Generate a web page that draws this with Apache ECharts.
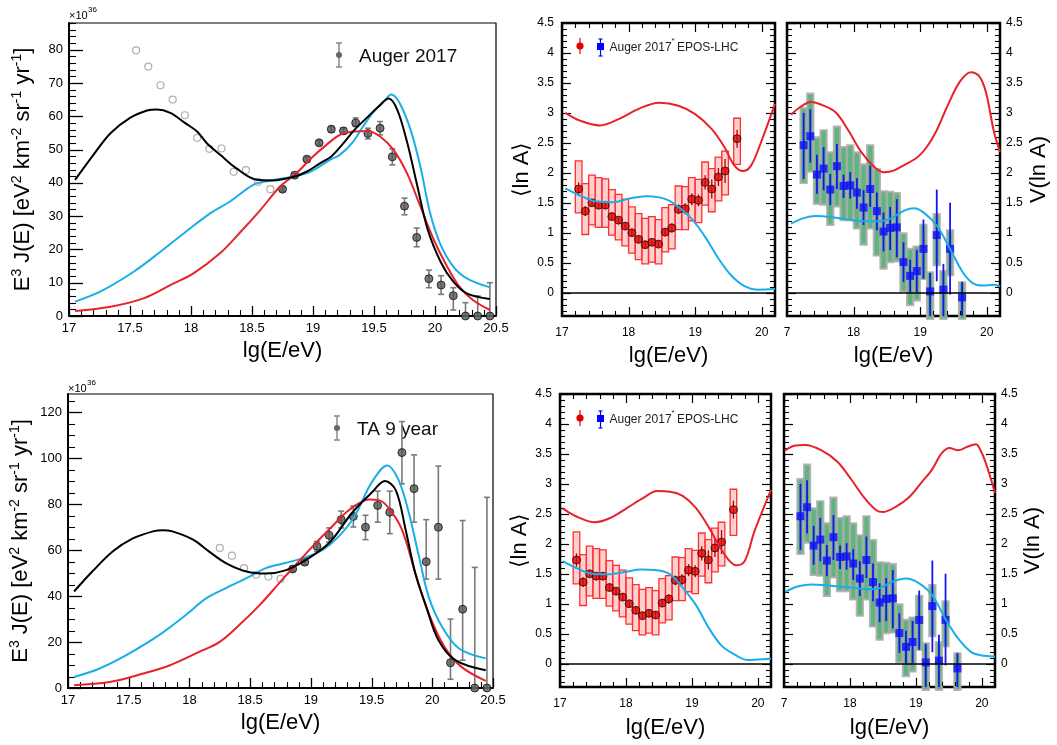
<!DOCTYPE html>
<html><head><meta charset="utf-8">
<script src="https://cdn.jsdelivr.net/npm/echarts@6/dist/echarts.min.js"></script>
<style>html,body{margin:0;padding:0;background:#fff}#c{width:1057px;height:745px}</style>
</head><body><div id="c"></div>
<script>
// ---------------- DATA ----------------
// Auger 2017 spectrum (E^3 J in 1e36 units)
const augerOpenE = [17.55,17.65,17.75,17.85,17.95,18.05,18.15,18.25,18.35,18.45,18.55,18.65];
const augerOpenJ = [79.8,74.9,69.3,65.0,60.3,53.5,50.2,50.3,43.3,43.8,40.3,38.1];
const augerE  = [18.75,18.85,18.95,19.05,19.15,19.25,19.35,19.45,19.55,19.65,19.75,19.85,19.95,20.05,20.15,20.25,20.35,20.45];
const augerJ  = [38.1,42.3,47.1,52.0,56.1,55.6,58.0,54.8,56.4,47.8,33.0,23.6,11.2,9.3,6.1,0,0,0];
const augerLo = [37.5,41.7,46.4,51.3,55.3,54.7,56.9,53.2,54.4,45.4,30.4,20.8,8.5,6.5,1.8,0,0,0];
const augerHi = [38.7,42.9,47.8,52.7,56.9,56.5,59.5,56.4,58.4,50.2,35.4,26.4,13.8,12.1,8.5,4.0,6.0,10.0];
const augerBlack = [[17.05,40.9],[17.2,48.4],[17.34,54.9],[17.5,59.5],[17.64,61.7],[17.72,62.0],[17.83,61.0],[17.95,58.0],[18.05,55.4],[18.13,51.9],[18.24,48.4],[18.37,44.4],[18.54,40.9],[18.67,40.7],[18.85,41.9],[18.95,43.4],[19.06,45.9],[19.15,47.9],[19.25,51.9],[19.34,55.9],[19.44,59.5],[19.54,63.0],[19.62,65.3],[19.69,62.0],[19.77,52.4],[19.85,39.9],[19.94,26.0],[20.05,16.0],[20.15,10.3],[20.26,6.8],[20.45,5.1]];
const augerCyan = [[17.05,4.3],[17.28,7.8],[17.53,13.3],[17.75,19.3],[17.96,25.4],[18.16,30.9],[18.32,34.4],[18.51,39.4],[18.62,40.5],[18.85,42.0],[18.98,43.4],[19.14,46.9],[19.22,48.4],[19.33,52.4],[19.41,56.9],[19.49,61.0],[19.59,64.8],[19.64,66.5],[19.71,64.0],[19.8,55.9],[19.88,44.9],[19.96,30.9],[20.04,21.9],[20.15,14.8],[20.26,11.3],[20.45,8.6]];
const augerRed = [[17.05,1.5],[17.34,2.8],[17.61,5.3],[17.83,9.3],[18.02,12.8],[18.24,18.9],[18.4,25.0],[18.57,31.9],[18.73,38.9],[18.85,42.4],[19.0,47.9],[19.11,51.4],[19.22,54.4],[19.33,55.4],[19.45,55.6],[19.55,53.9],[19.66,49.9],[19.77,42.9],[19.88,32.9],[19.99,22.9],[20.1,14.8],[20.2,8.8],[20.31,4.8],[20.45,1.8]];

// TA 9 year spectrum
const taOpenE = [18.25,18.35,18.45,18.55,18.65,18.75];
const taOpenJ = [61.0,57.6,52.2,49.3,48.5,47.5];
const taE  = [18.85,18.95,19.05,19.15,19.25,19.35,19.45,19.55,19.65,19.75,19.85,19.95,20.05,20.15,20.25,20.35,20.45];
const taJ  = [51.8,54.8,61.7,66.5,73.3,74.7,70.0,79.5,76.5,102.5,86.8,55.0,70.0,11.0,34.3,0,0];
const taLo = [50.8,53.6,59.5,63.5,69.7,70.1,64.6,72.2,67.2,88.9,72.2,47.4,47.4,3.8,12.1,0,0];
const taHi = [52.8,56.0,63.8,69.7,77.0,79.2,75.2,85.7,85.7,116.0,101.5,73.3,96.6,30.0,72.9,52.5,83.0];
const taBlack = [[17.05,42.0],[17.2,50.7],[17.37,59.5],[17.53,65.0],[17.7,68.2],[17.78,68.7],[17.86,68.2],[18.03,64.6],[18.16,59.5],[18.3,54.4],[18.47,50.7],[18.63,49.8],[18.79,51.2],[18.96,55.8],[19.15,63.1],[19.34,76.3],[19.5,85.0],[19.61,90.1],[19.7,86.0],[19.78,69.0],[19.86,50.0],[19.95,35.4],[20.05,20.9],[20.19,12.1],[20.44,7.7]];
const taCyan = [[17.05,4.8],[17.26,8.5],[17.48,14.3],[17.75,23.0],[17.97,31.8],[18.14,39.1],[18.3,43.5],[18.47,47.8],[18.63,52.2],[18.79,54.4],[18.96,57.0],[19.1,60.2],[19.23,66.0],[19.36,74.8],[19.5,89.4],[19.63,96.9],[19.72,90.8],[19.8,77.7],[19.89,57.3],[19.97,39.8],[20.08,26.7],[20.22,17.2],[20.44,12.9]];
const taRed = [[17.05,1.2],[17.34,2.6],[17.62,6.3],[17.84,9.9],[18.08,15.7],[18.25,20.1],[18.41,27.4],[18.58,36.2],[18.75,46.3],[18.9,55.1],[19.04,63.1],[19.15,69.0],[19.32,77.7],[19.48,82.1],[19.56,81.8],[19.64,78.4],[19.75,69.0],[19.86,50.0],[19.97,32.5],[20.1,17.9],[20.24,9.2],[20.44,3.1]];

// Auger 2017 EPOS-LHC composition
const compE = [17.25,17.35,17.45,17.55,17.65,17.75,17.85,17.95,18.05,18.15,18.25,18.35,18.45,18.55,18.65,18.75,18.85,18.95,19.05,19.15,19.25,19.35,19.45,19.63];
const lnAVal   = [1.73,1.36,1.50,1.46,1.46,1.27,1.21,1.11,1.00,0.89,0.80,0.84,0.81,1.01,1.08,1.39,1.40,1.56,1.54,1.84,1.73,1.93,2.03,2.57];
const lnAStat  = [0.11,0.08,0.06,0.06,0.06,0.06,0.06,0.06,0.06,0.06,0.06,0.06,0.06,0.07,0.08,0.08,0.09,0.10,0.10,0.12,0.16,0.15,0.20,0.15];
const lnASysLo = [1.33,0.97,1.13,1.09,1.09,0.96,0.88,0.78,0.66,0.55,0.48,0.51,0.48,0.68,0.73,1.05,1.05,1.20,1.17,1.46,1.35,1.53,1.63,2.14];
const lnASysHi = [2.20,1.82,1.96,1.92,1.90,1.72,1.64,1.56,1.43,1.32,1.24,1.27,1.22,1.42,1.47,1.78,1.77,1.92,1.89,2.18,2.07,2.26,2.36,2.91];
const vVal    = [2.46,2.61,1.97,2.07,1.72,2.11,1.78,1.79,1.67,1.42,1.73,1.36,1.02,1.08,1.09,0.51,0.28,0.36,0.73,0.02,0.96,0.05,0.73,-0.08];
const vStatLo = [1.90,2.17,1.65,1.71,1.46,1.73,1.58,1.57,1.40,1.13,1.43,1.04,0.69,0.71,0.59,0.18,0.00,0.01,0.23,-0.5,0.19,-0.5,-0.03,-0.5];
const vStatHi = [3.00,3.06,2.30,2.43,1.98,2.48,1.97,2.01,1.91,1.71,2.12,1.67,1.34,1.43,1.56,0.84,0.55,0.71,1.22,0.33,1.72,0.48,1.50,0.18];
const vSysLo  = [1.83,2.02,1.48,1.47,1.13,1.44,1.21,1.21,1.07,0.80,1.07,0.62,0.40,0.51,0.52,0.02,-0.21,-0.13,0.23,-0.6,0.46,-0.6,0.29,-0.6];
const vSysHi  = [3.08,3.32,2.59,2.71,2.34,2.77,2.43,2.46,2.34,2.14,2.46,2.06,1.69,1.68,1.66,0.99,0.73,0.77,1.13,0.34,1.31,0.36,1.04,0.17];

// model curves for composition
const lnATopRed  = [[17.05,3.0],[17.27,2.87],[17.57,2.79],[17.86,2.90],[18.16,3.07],[18.46,3.17],[18.75,3.12],[19.0,2.98],[19.25,2.73],[19.44,2.43],[19.59,2.12],[19.72,2.03],[19.84,2.12],[19.99,2.51],[20.2,3.15]];
const lnATopCyan = [[17.05,1.74],[17.27,1.62],[17.52,1.52],[17.77,1.51],[18.01,1.57],[18.26,1.61],[18.46,1.59],[18.6,1.54],[18.75,1.43],[18.95,1.23],[19.15,0.93],[19.35,0.57],[19.54,0.29],[19.74,0.11],[19.94,0.05],[20.2,0.06]];
const vTopRed  = [[17.06,2.97],[17.19,3.09],[17.36,3.18],[17.53,3.13],[17.73,3.01],[17.92,2.71],[18.12,2.34],[18.32,2.09],[18.46,2.01],[18.61,2.04],[18.76,2.13],[18.96,2.26],[19.1,2.43],[19.25,2.71],[19.4,3.09],[19.59,3.51],[19.76,3.68],[19.89,3.61],[19.99,3.34],[20.11,2.68],[20.2,2.35]];
const vTopCyan = [[17.06,1.15],[17.24,1.24],[17.43,1.28],[17.68,1.26],[17.92,1.22],[18.17,1.19],[18.37,1.19],[18.56,1.24],[18.76,1.37],[18.91,1.41],[19.05,1.34],[19.25,1.12],[19.45,0.73],[19.64,0.34],[19.79,0.16],[19.94,0.12],[20.11,0.13],[20.2,0.1]];
const lnABotRed  = [[17.04,2.59],[17.24,2.46],[17.53,2.36],[17.78,2.44],[18.02,2.6],[18.27,2.77],[18.47,2.88],[18.67,2.87],[18.86,2.8],[19.06,2.6],[19.26,2.27],[19.4,1.99],[19.55,1.74],[19.67,1.64],[19.8,1.71],[19.95,2.21],[20.2,2.9]];
const lnABotCyan = [[17.04,1.71],[17.24,1.6],[17.48,1.5],[17.73,1.49],[17.98,1.53],[18.22,1.57],[18.47,1.56],[18.67,1.49],[18.86,1.27],[19.06,0.98],[19.26,0.59],[19.45,0.3],[19.65,0.15],[19.85,0.06],[20.0,0.07],[20.2,0.08]];
const vBotRed  = [[17.02,3.56],[17.17,3.64],[17.32,3.65],[17.57,3.56],[17.81,3.37],[18.01,3.09],[18.21,2.78],[18.4,2.56],[18.5,2.53],[18.7,2.62],[18.9,2.78],[19.09,3.03],[19.24,3.23],[19.39,3.51],[19.51,3.6],[19.64,3.56],[19.78,3.62],[19.91,3.66],[19.98,3.56],[20.06,3.35],[20.2,2.85]];
const vBotCyan = [[17.02,1.2],[17.22,1.29],[17.42,1.32],[17.71,1.3],[18.01,1.27],[18.31,1.24],[18.45,1.26],[18.65,1.37],[18.85,1.42],[19.05,1.34],[19.25,1.14],[19.44,0.76],[19.64,0.42],[19.83,0.2],[19.98,0.14],[20.2,0.12]];

// tick values (labelled majors)
const specXTicks = [17,17.5,18,18.5,19,19.5,20,20.5];
const specTopYTicks = [0,10,20,30,40,50,60,70,80];
const specBotYTicks = [0,20,40,60,80,100,120];
const compXTicks = [17,18,19,20];
const compYTicks = [0,0.5,1,1.5,2,2.5,3,3.5,4,4.5];

// ---------------- HELPERS ----------------
const FONT = "'Liberation Sans', Arial, Helvetica, sans-serif";
function range(a, b, s) { const r = []; for (let i = 0; a + i * s <= b + 1e-9; i++) r.push(+(a + i * s).toFixed(4)); return r; }
function minus(all, majors) { return all.filter(v => !majors.some(m => Math.abs(m - v) < 1e-6)); }
const specXMinor = minus(range(17, 20.5, 0.1), specXTicks);
const specTopYMinor = minus(range(0, 88, 2), specTopYTicks);
const specBotYMinor = minus(range(0, 125, 5), specBotYTicks);
const compXMinor = minus(range(17, 20.2, 0.2), compXTicks);
const compYMinor = minus(range(-0.3, 4.5, 0.1), compYTicks);

function makeErrRender(color, lw, cap) {
  return function (params, api) {
    const cs = params.coordSys;
    const x = api.value(0), lo = api.value(1), hi = api.value(2);
    const pLo = api.coord([x, lo]), pHi = api.coord([x, hi]);
    const yMin = cs.y, yMax = cs.y + cs.height;
    const cl = v => Math.max(yMin, Math.min(yMax, v));
    const cx = pLo[0];
    const st = { stroke: color, lineWidth: lw };
    const ch = [{ type: 'line', shape: { x1: cx, y1: cl(pHi[1]), x2: cx, y2: cl(pLo[1]) }, style: st }];
    if (cap > 0) {
      if (pHi[1] >= yMin) ch.push({ type: 'line', shape: { x1: cx - cap, y1: pHi[1], x2: cx + cap, y2: pHi[1] }, style: st });
      if (pLo[1] <= yMax) ch.push({ type: 'line', shape: { x1: cx - cap, y1: pLo[1], x2: cx + cap, y2: pLo[1] }, style: st });
    }
    return { type: 'group', children: ch };
  };
}
function makeBoxRender(fill, stroke, lw, halfW) {
  return function (params, api) {
    const cs = params.coordSys;
    const x = api.value(0), lo = api.value(1), hi = api.value(2);
    const a = api.coord([x - halfW, hi]), b = api.coord([x + halfW, lo]);
    const r = echarts.graphic.clipRectByRect(
      { x: a[0], y: a[1], width: b[0] - a[0], height: b[1] - a[1] },
      { x: cs.x, y: cs.y, width: cs.width, height: cs.height + 3 });
    if (!r) return null;
    return { type: 'rect', shape: r, style: { fill: fill, stroke: stroke, lineWidth: lw } };
  };
}
// axis tick marks placed through the axis scale; rows are [x, y, y]
// kind 'b': bottom x tick, 'bt': bottom+top, 'l': left y tick, 'lr': left+right
function makeTickRender(lw, len, kind) {
  return function (params, api) {
    const cs = params.coordSys;
    const p = api.coord([api.value(0), api.value(1)]);
    const st = { stroke: '#000', lineWidth: lw };
    const ch = [];
    if (kind === 'b' || kind === 'bt') {
      const x = Math.round(p[0]) + 0.5, b = cs.y + cs.height, t = cs.y;
      ch.push({ type: 'line', shape: { x1: x, y1: b - 1, x2: x, y2: b - len }, style: st });
      if (kind === 'bt') ch.push({ type: 'line', shape: { x1: x, y1: t + 1, x2: x, y2: t + len }, style: st });
    } else {
      const y = Math.round(p[1]) + 0.5, l = cs.x, r = cs.x + cs.width;
      ch.push({ type: 'line', shape: { x1: l + 1, y1: y, x2: l + len, y2: y }, style: st });
      if (kind === 'lr') ch.push({ type: 'line', shape: { x1: r - 1, y1: y, x2: r - len, y2: y }, style: st });
    }
    return { type: 'group', children: ch };
  };
}

const xA = [], yA = [], series = [], tickSeriesList = [];
function tickSeries(xi, yi, rows, lw, len, kind) {
  tickSeriesList.push({ type: 'custom', xAxisIndex: xi, yAxisIndex: yi, renderItem: makeTickRender(lw, len, kind),
    data: rows.map(r => [r[0], r[1], r[1]]), encode: { x: 0, y: [1, 2] } });
}
function axis(g, pos, min, max, vals, size, margin, fmt, extra) {
  const ax = { type: 'value', gridIndex: g, position: pos, min: min, max: max,
    splitLine: { show: false }, axisLine: { show: false, onZero: false }, axisTick: { show: false },
    axisLabel: { show: true, customValues: vals, fontSize: size, margin: margin, color: '#000', fontFamily: FONT } };
  if (fmt) ax.axisLabel.formatter = fmt;
  return Object.assign(ax, extra || {});
}
const nameStyle = { fontSize: 22, color: '#000', fontFamily: FONT };
const specYName = '{n|E}{s|3}{n| J(E) [eV}{s|2}{n| km}{s|-2}{n| sr}{s|-1}{n| yr}{s|-1}{n|]}';
const specYNameStyle = { fontSize: 22, color: '#000', fontFamily: FONT,
  rich: { n: { fontSize: 22, color: '#000', fontFamily: FONT, lineHeight: 26 },
          s: { fontSize: 14, color: '#000', fontFamily: FONT, verticalAlign: 'top', lineHeight: 26, padding: [0, 0, 10, 0] } } };
const thickLine = { show: true, onZero: false, lineStyle: { color: '#000', width: 2 } };

function specPanel(g, yMax, yTicks, yMinor, yGap, xGap) {
  const xi = xA.length, yi = yA.length;
  xA.push(axis(g, 'bottom', 17, 20.5, specXTicks, 13, 6, null,
    { axisLine: thickLine, name: 'lg(E/eV)', nameLocation: 'middle', nameGap: xGap, nameTextStyle: nameStyle }));
  yA.push(axis(g, 'left', 0, yMax, yTicks, 13, 6, null,
    { axisLine: thickLine, name: specYName, nameLocation: 'middle', nameRotate: 90, nameGap: yGap, nameTextStyle: specYNameStyle }));
  tickSeries(xi, yi, specXTicks.map(v => [v, 0]), 1.3, 10, 'b');
  tickSeries(xi, yi, specXMinor.map(v => [v, 0]), 1.1, 6, 'b');
  tickSeries(xi, yi, yTicks.map(v => [17, v]), 1.3, 14, 'l');
  tickSeries(xi, yi, yMinor.map(v => [17, v]), 1.1, 7, 'l');
  return [xi, yi];
}
const C_YMIN = -0.39, C_YMAX = 4.5, C_XMAX = 20.2;
function compPanel(g, right, name, xfmt, xGap, yGap) {
  const xi = xA.length, yi = yA.length;
  xA.push(axis(g, 'bottom', 17, C_XMAX, compXTicks, 12, 11, xfmt,
    { name: 'lg(E/eV)', nameLocation: 'middle', nameGap: xGap, nameTextStyle: nameStyle }));
  yA.push(axis(g, right ? 'right' : 'left', C_YMIN, C_YMAX, compYTicks, 12, right ? 6 : 8, null,
    { name: name, nameLocation: 'middle', nameRotate: 90, nameGap: yGap, nameTextStyle: nameStyle }));
  tickSeries(xi, yi, compXTicks.map(v => [v, 0]), 1.2, 9, 'bt');
  tickSeries(xi, yi, compXMinor.map(v => [v, 0]), 1.1, 5, 'bt');
  tickSeries(xi, yi, compYTicks.map(v => [17, v]), 1.2, 9, 'lr');
  tickSeries(xi, yi, compYMinor.map(v => [17, v]), 1.1, 5, 'lr');
  return [xi, yi];
}
function lineSeries(xi, yi, data, color, extra) {
  return Object.assign({ type: 'line', xAxisIndex: xi, yAxisIndex: yi, data: data, showSymbol: false, symbol: 'none',
    smooth: 0.35, clip: true, lineStyle: { color: color, width: 2 }, itemStyle: { color: color }, silent: true }, extra || {});
}
function specSeries(ax, openE, openJ, E, J, Lo, Hi, black, cyan, red) {
  const [xi, yi] = ax;
  series.push({ type: 'scatter', xAxisIndex: xi, yAxisIndex: yi, data: openE.map((e, i) => [e, openJ[i]]),
    symbol: 'circle', symbolSize: 7, itemStyle: { color: '#fff', borderColor: '#9a9a9a', borderWidth: 1.2 } });
  series.push({ type: 'custom', xAxisIndex: xi, yAxisIndex: yi, renderItem: makeErrRender('#7a7a7a', 1.6, 3),
    data: E.map((e, i) => [e, Lo[i], Hi[i]]), encode: { x: 0, y: [1, 2] } });
  series.push({ type: 'scatter', xAxisIndex: xi, yAxisIndex: yi, data: E.map((e, i) => [e, J[i]]),
    symbol: 'circle', symbolSize: 8, itemStyle: { color: '#555', borderColor: '#111', borderWidth: 1 } });
  series.push(lineSeries(xi, yi, cyan, '#1aaee8'));
  series.push(lineSeries(xi, yi, red, '#e8222c'));
  series.push(lineSeries(xi, yi, black, '#000'));
}
const zeroLine = { silent: true, symbol: 'none', label: { show: false }, animation: false,
  lineStyle: { color: '#000', width: 1.5, type: 'solid' }, emphasis: { disabled: true }, data: [{ yAxis: 0 }] };
function lnASeries(ax, red, cyan) {
  const [xi, yi] = ax;
  series.push({ type: 'custom', xAxisIndex: xi, yAxisIndex: yi, renderItem: makeBoxRender('rgba(255,150,150,0.45)', '#ff2f2f', 1.3, 0.05),
    data: compE.map((e, i) => [e, lnASysLo[i], lnASysHi[i]]), encode: { x: 0, y: [1, 2] } });
  series.push(lineSeries(xi, yi, red, '#e8222c', { markLine: zeroLine }));
  series.push(lineSeries(xi, yi, cyan, '#1aaee8'));
  series.push({ type: 'custom', xAxisIndex: xi, yAxisIndex: yi, renderItem: makeErrRender('#b00000', 1.3, 0),
    data: compE.map((e, i) => [e, lnAVal[i] - lnAStat[i], lnAVal[i] + lnAStat[i]]), encode: { x: 0, y: [1, 2] } });
  series.push({ type: 'scatter', xAxisIndex: xi, yAxisIndex: yi, data: compE.map((e, i) => [e, lnAVal[i]]),
    symbol: 'circle', symbolSize: 8, itemStyle: { color: '#e60000', borderColor: '#111', borderWidth: 1 } });
}
function vSeries(ax, red, cyan) {
  const [xi, yi] = ax;
  series.push({ type: 'custom', xAxisIndex: xi, yAxisIndex: yi, renderItem: makeBoxRender('#5db57e', 'rgba(170,170,170,0.85)', 2.2, 0.046),
    data: compE.map((e, i) => [e, vSysLo[i], vSysHi[i]]), encode: { x: 0, y: [1, 2] } });
  series.push(lineSeries(xi, yi, red, '#e8222c', { markLine: zeroLine }));
  series.push(lineSeries(xi, yi, cyan, '#1aaee8'));
  series.push({ type: 'custom', xAxisIndex: xi, yAxisIndex: yi, renderItem: makeErrRender('#1515f0', 1.8, 0),
    data: compE.map((e, i) => [e, vStatLo[i], vStatHi[i]]), encode: { x: 0, y: [1, 2] } });
  series.push({ type: 'scatter', xAxisIndex: xi, yAxisIndex: yi, data: compE.map((e, i) => [e, vVal[i]]),
    symbol: 'rect', symbolSize: 8, itemStyle: { color: '#0c0cff' } });
}

// ---------------- LAYOUT ----------------
const gbase = { show: true, borderColor: '#000', backgroundColor: 'transparent' };
const grids = [
  Object.assign({ left: 69, top: 23, width: 427, height: 293, borderWidth: 1.2 }, gbase),
  Object.assign({ left: 562, top: 23, width: 213, height: 293, borderWidth: 2.5 }, gbase),
  Object.assign({ left: 787, top: 23, width: 213, height: 293, borderWidth: 2.5 }, gbase),
  Object.assign({ left: 68, top: 394, width: 425, height: 294, borderWidth: 1.2 }, gbase),
  Object.assign({ left: 560, top: 394, width: 211, height: 293, borderWidth: 2.5 }, gbase),
  Object.assign({ left: 784, top: 394, width: 211, height: 293, borderWidth: 2.5 }, gbase)
];
const trunc17 = v => (Math.abs(v - 17) < 1e-6 ? '7' : String(v));

const a0 = specPanel(0, 88, specTopYTicks, specTopYMinor, 33, 24);
const a1 = compPanel(1, false, '⟨ln A⟩', null, 29, 27);
const a2 = compPanel(2, true, 'V(ln A)', trunc17, 29, 28);
const a3 = specPanel(3, 128, specBotYTicks, specBotYMinor, 34, 24);
const a4 = compPanel(4, false, '⟨ln A⟩', null, 30, 25);
const a5 = compPanel(5, true, 'V(ln A)', trunc17, 30, 27);

specSeries(a0, augerOpenE, augerOpenJ, augerE, augerJ, augerLo, augerHi, augerBlack, augerCyan, augerRed);
lnASeries(a1, lnATopRed, lnATopCyan);
vSeries(a2, vTopRed, vTopCyan);
specSeries(a3, taOpenE, taOpenJ, taE, taJ, taLo, taHi, taBlack, taCyan, taRed);
lnASeries(a4, lnABotRed, lnABotCyan);
vSeries(a5, vBotRed, vBotCyan);
tickSeriesList.forEach(s => series.push(s));

// ---------------- LEGENDS / ANNOTATIONS ----------------
function txt(t, x, y, size, extra) {
  return { type: 'text', silent: true, style: Object.assign({ text: t, x: x, y: y, fontSize: size, fontFamily: FONT, fill: '#000', align: 'left', verticalAlign: 'middle' }, extra || {}) };
}
function ln(x1, y1, x2, y2, c, w) { return { type: 'line', silent: true, shape: { x1, y1, x2, y2 }, style: { stroke: c, lineWidth: w } }; }
function specLegend(cx, cy, label) {
  return [
    ln(cx, cy - 12, cx, cy + 12, '#888', 1.5), ln(cx - 3, cy - 12, cx + 3, cy - 12, '#888', 1.5), ln(cx - 3, cy + 12, cx + 3, cy + 12, '#888', 1.5),
    { type: 'circle', silent: true, shape: { cx: cx, cy: cy, r: 3 }, style: { fill: '#666' } },
    txt(label, cx + 20, cy + 2, 19, { fill: '#111' })
  ];
}
function compLegend(yc) {
  return [
    ln(580, yc - 8, 580, yc + 8, '#e00000', 1.2),
    { type: 'circle', silent: true, shape: { cx: 580, cy: yc, r: 3.6 }, style: { fill: '#e00000' } },
    ln(600.5, yc - 7, 600.5, yc + 10, '#0000ff', 1.2), ln(598.5, yc - 7, 602.5, yc - 7, '#0000ff', 1.2), ln(598.5, yc + 10, 602.5, yc + 10, '#0000ff', 1.2),
    { type: 'rect', silent: true, shape: { x: 597, y: yc - 3, width: 7, height: 7 }, style: { fill: '#0000ff' } },
    txt('Auger 2017', 609.5, yc + 2, 12, { fill: '#222' }),
    txt('*', 671.5, yc - 5, 8, { fill: '#222' }),
    txt('EPOS-LHC', 677, yc + 2, 12, { fill: '#222' })
  ];
}
const graphic = [].concat(
  [txt('×10', 69, 16, 11), txt('36', 88, 10, 8), txt('×10', 68, 389, 11), txt('36', 87, 383, 8)],
  specLegend(339, 55, 'Auger 2017'),
  specLegend(337, 428, 'TA 9 year'),
  compLegend(46),
  compLegend(418)
);

const chart = echarts.init(document.getElementById('c'), null, { renderer: 'canvas' });
chart.setOption({
  animation: false,
  backgroundColor: '#fff',
  textStyle: { fontFamily: FONT },
  grid: grids,
  xAxis: xA,
  yAxis: yA,
  series: series,
  graphic: graphic
});
</script>
</body></html>
